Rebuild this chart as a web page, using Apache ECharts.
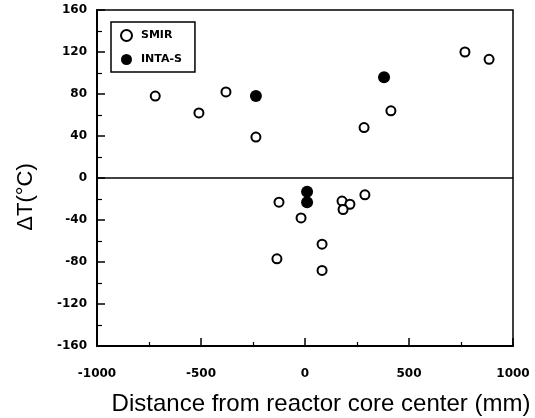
<!DOCTYPE html>
<html>
<head>
<meta charset="utf-8">
<script src="https://cdn.jsdelivr.net/npm/echarts@6/dist/echarts.min.js"></script>
<style>html,body{margin:0;padding:0;background:#fff;}#c{width:535px;height:418px;}</style>
</head>
<body>
<div id="c"></div>
<script>
// SMIR (open circles)
var smirX = [-720, -510, -380, -236, 769, 885, 413, 284, -125, -19, 178, 216, 183, 288, 82, -135, 82];
var smirY = [78, 62, 82, 39, 120, 113, 64, 48, -23, -38, -22, -25, -30, -16, -63, -77, -88];
// INTA-S (filled circles)
var intaX = [-236, 380, 10, 10];
var intaY = [78, 96, -13, -23];
var xTicks = [-1000, -500, 0, 500, 1000];
var yTicks = [-160, -120, -80, -40, 0, 40, 80, 120, 160];

function pairs(xs, ys) { return xs.map(function (x, i) { return [x, ys[i]]; }); }

var chart = echarts.init(document.getElementById('c'), null, { renderer: 'canvas' });
var tickFont = { fontFamily: 'DejaVu Sans', fontWeight: 'bold', fontSize: 12, color: '#000' };
chart.setOption({
  animation: false,
  backgroundColor: '#fff',
  grid: {
    left: 97, right: 22, top: 10, bottom: 72, containLabel: false, outerBoundsMode: 'none',
    show: true, borderColor: '#000', borderWidth: 1.5, backgroundColor: 'transparent'
  },
  legend: {
    orient: 'vertical', left: 111, top: 22,
    borderColor: '#000', borderWidth: 1.5, borderRadius: 0,
    padding: [7, 13, 7, 9], itemGap: 12, itemWidth: 19, itemHeight: 11,
    textStyle: { fontFamily: 'DejaVu Sans', fontWeight: 'bold', fontSize: 11, color: '#000' },
    data: ['SMIR', 'INTA-S']
  },
  xAxis: {
    type: 'value', min: xTicks[0], max: xTicks[xTicks.length - 1], interval: 500,
    name: 'Distance from reactor core center (mm)', nameLocation: 'middle', nameGap: 46,
    nameTextStyle: { fontFamily: 'Liberation Sans', fontSize: 24, color: '#000', padding: [0, 0, 0, 32] },
    axisLine: { onZero: false, lineStyle: { color: '#000', width: 2 } },
    axisTick: { inside: true, length: 8, lineStyle: { color: '#000', width: 1.5 } },
    minorTick: { show: true, splitNumber: 2, length: 4, lineStyle: { color: '#000', width: 1.2 } },
    axisLabel: Object.assign({ margin: 22, formatter: function (v) { return String(v); } }, tickFont),
    splitLine: { show: false }
  },
  yAxis: {
    type: 'value', min: yTicks[0], max: yTicks[yTicks.length - 1], interval: 40,
    name: 'ΔT(°C)', nameLocation: 'middle', nameGap: 60, nameRotate: 90,
    nameTextStyle: { fontFamily: 'Liberation Sans', fontSize: 22, color: '#000', padding: [0, 38, 0, 0] },
    axisLine: { onZero: false, lineStyle: { color: '#000', width: 2 } },
    axisTick: { inside: true, length: 8, lineStyle: { color: '#000', width: 1.5 } },
    minorTick: { show: true, splitNumber: 2, length: 5, lineStyle: { color: '#000', width: 1.2 } },
    axisLabel: Object.assign({ margin: 10, padding: [6, 0, 0, 0], formatter: function (v) { return String(v); } }, tickFont),
    splitLine: { show: false }
  },
  series: [
    {
      name: 'SMIR', type: 'scatter', symbol: 'circle', symbolSize: 9,
      itemStyle: { color: '#fff', borderColor: '#000', borderWidth: 2, opacity: 1 },
      data: pairs(smirX, smirY), z: 3,
      markLine: {
        silent: true, symbol: 'none', label: { show: false },
        lineStyle: { color: '#000', width: 1.5, type: 'solid' },
        data: [{ yAxis: 0 }]
      }
    },
    {
      name: 'INTA-S', type: 'scatter', symbol: 'circle', symbolSize: 12,
      itemStyle: { color: '#000', borderColor: '#000', borderWidth: 0, opacity: 1 },
      data: pairs(intaX, intaY), z: 4
    }
  ]
});
</script>
</body>
</html>
